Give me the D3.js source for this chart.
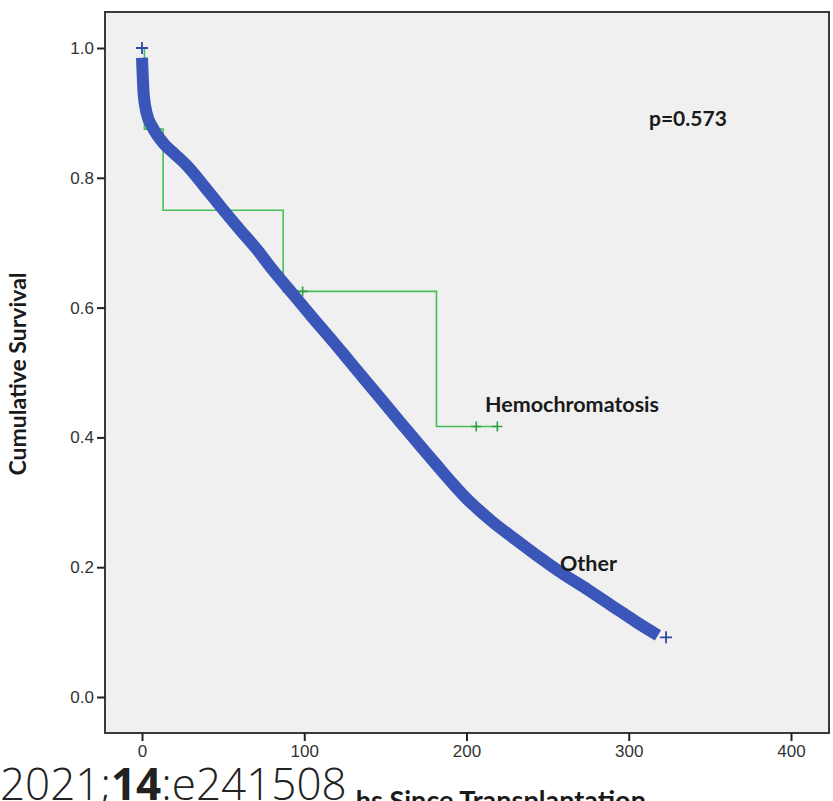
<!DOCTYPE html>
<html>
<head>
<meta charset="utf-8">
<script src="https://cdn.jsdelivr.net/npm/d3@7"></script>
<style>
  html, body { margin: 0; padding: 0; background: #ffffff; }
  svg { display: block; }
</style>
</head>
<body>
<svg id="chart" width="833" height="801"></svg>
<script>
// ---- Data ----
// "Other" group: Kaplan–Meier estimate
const otherTimes = [0, 1, 2, 4, 6, 9, 14, 20, 28, 38, 48, 60, 71, 80, 91, 105, 118, 128, 140, 159, 180, 200, 215, 230, 245, 258, 275, 290, 305, 318];
const otherSurv  = [0.985, 0.93, 0.91, 0.89, 0.88, 0.867, 0.851, 0.837, 0.818, 0.788, 0.757, 0.721, 0.689, 0.660, 0.627, 0.585, 0.547, 0.517, 0.481, 0.424, 0.362, 0.306, 0.272, 0.243, 0.215, 0.192, 0.165, 0.140, 0.115, 0.095];
const otherCensorTimes = [0, 323];
const otherCensorSurv  = [1.0, 0.092];

// "Hemochromatosis" group: step function (event times and survival after each event)
const hemoTimes = [0, 1.5, 13, 87, 181.5, 219];
const hemoSurv  = [1.0, 0.875, 0.75, 0.625, 0.4167, 0.4167];
const hemoCensorTimes = [90, 99, 206, 219];
const hemoCensorSurv  = [0.625, 0.625, 0.4167, 0.4167];

const xTicks = [0, 100, 200, 300, 400];
const yTicks = [0.0, 0.2, 0.4, 0.6, 0.8, 1.0];

const pValueLabel = "p=0.573";
const seriesLabels = ["Hemochromatosis", "Other"];
const xTitle = "Months Since Transplantation";
const yTitle = "Cumulative Survival";

// ---- Layout ----
const svg = d3.select("#chart");
const frame = { left: 105, top: 12, right: 829, bottom: 733 };

const x = d3.scaleLinear().domain([0, 400]).range([142, 791]);
const y = d3.scaleLinear().domain([0, 1]).range([697, 48]);

// plot background
svg.append("rect")
  .attr("x", frame.left).attr("y", frame.top)
  .attr("width", frame.right - frame.left).attr("height", frame.bottom - frame.top)
  .attr("fill", "#f0f0f0");

// Hemochromatosis step line
const hemoData = hemoTimes.map((t, i) => ({ t, s: hemoSurv[i] }));
const stepLine = d3.line().x(d => x(d.t)).y(d => y(d.s)).curve(d3.curveStepAfter);
svg.append("path")
  .datum(hemoData)
  .attr("d", stepLine)
  .attr("fill", "none")
  .attr("stroke", "#45bf55")
  .attr("stroke-width", 1.6);

// Hemochromatosis censor marks
const plusPath = (cx, cy, r) => `M${cx - r},${cy}H${cx + r}M${cx},${cy - r}V${cy + r}`;
svg.append("g").selectAll("path")
  .data(hemoCensorTimes.map((t, i) => ({ t, s: hemoCensorSurv[i] })))
  .join("path")
  .attr("d", d => plusPath(x(d.t), y(d.s), 5))
  .attr("stroke", "#2ea043")
  .attr("stroke-width", 1.6);

// Other curve (thick because of dense censor marks)
const otherData = otherTimes.map((t, i) => ({ t, s: otherSurv[i] }));
const smoothLine = d3.line().x(d => x(d.t)).y(d => y(d.s)).curve(d3.curveMonotoneX);
svg.append("path")
  .datum(otherData)
  .attr("d", smoothLine)
  .attr("fill", "none")
  .attr("stroke", "#3a56b8")
  .attr("stroke-width", 12)
  .attr("stroke-linejoin", "round");

svg.append("g").selectAll("path")
  .data(otherCensorTimes.map((t, i) => ({ t, s: otherCensorSurv[i] })))
  .join("path")
  .attr("d", d => plusPath(x(d.t), y(d.s), 6))
  .attr("stroke", "#2f4aa8")
  .attr("stroke-width", 1.8);

// frame
svg.append("rect")
  .attr("x", frame.left).attr("y", frame.top)
  .attr("width", frame.right - frame.left).attr("height", frame.bottom - frame.top)
  .attr("fill", "none")
  .attr("stroke", "#3a3a3a")
  .attr("stroke-width", 2);

// axes
const yAxis = d3.axisLeft(y).tickValues(yTicks).tickFormat(d3.format(".1f")).tickSize(8).tickPadding(3);
const gy = svg.append("g").attr("transform", `translate(${frame.left},0)`).call(yAxis);
gy.select(".domain").remove();
gy.selectAll(".tick line").attr("stroke", "#222").attr("stroke-width", 2);
gy.selectAll(".tick text")
  .attr("font-family", "'Liberation Sans', Arial, sans-serif")
  .attr("font-size", 17).attr("fill", "#333");

const xAxis = d3.axisBottom(x).tickValues(xTicks).tickFormat(d3.format("d")).tickSize(8).tickPadding(4);
const gx = svg.append("g").attr("transform", `translate(0,${frame.bottom})`).call(xAxis);
gx.select(".domain").remove();
gx.selectAll(".tick line").attr("stroke", "#222").attr("stroke-width", 2);
gx.selectAll(".tick text")
  .attr("font-family", "'Liberation Sans', Arial, sans-serif")
  .attr("font-size", 17).attr("fill", "#333");

// annotations
const labelFont = "Lato, 'Open Sans', sans-serif";
svg.append("text").attr("x", 649).attr("y", 126).text(pValueLabel)
  .attr("font-family", labelFont).attr("font-weight", "bold").attr("font-size", 21).attr("fill", "#1a1a1a");
svg.append("text").attr("x", 485).attr("y", 412).text(seriesLabels[0])
  .attr("font-family", labelFont).attr("font-weight", "bold").attr("font-size", 21.5).attr("fill", "#1a1a1a");
svg.append("text").attr("x", 560).attr("y", 571).text(seriesLabels[1])
  .attr("font-family", labelFont).attr("font-weight", "bold").attr("font-size", 21.5).attr("fill", "#1a1a1a");

// axis titles
svg.append("text")
  .attr("transform", "translate(26,374) rotate(-90)")
  .attr("text-anchor", "middle")
  .attr("font-family", labelFont).attr("font-weight", "bold").attr("font-size", 23).attr("fill", "#1a1a1a")
  .text(yTitle);

svg.append("text")
  .attr("x", 468).attr("y", 810)
  .attr("text-anchor", "middle")
  .attr("font-family", labelFont).attr("font-weight", "bold").attr("font-size", 27).attr("fill", "#1a1a1a")
  .text(xTitle);

// citation overlay at bottom-left
svg.append("rect").attr("x", 0).attr("y", 768).attr("width", 357).attr("height", 33).attr("fill", "#ffffff");
const cite = svg.append("text").attr("x", 0).attr("y", 800)
  .attr("font-family", "'Open Sans', 'Noto Sans', sans-serif").attr("font-weight", 300)
  .attr("font-size", 44).attr("fill", "#222");
cite.append("tspan").text("2021;");
cite.append("tspan").attr("font-weight", "bold").text("14");
cite.append("tspan").text(":e241508");
</script>
</body>
</html>
